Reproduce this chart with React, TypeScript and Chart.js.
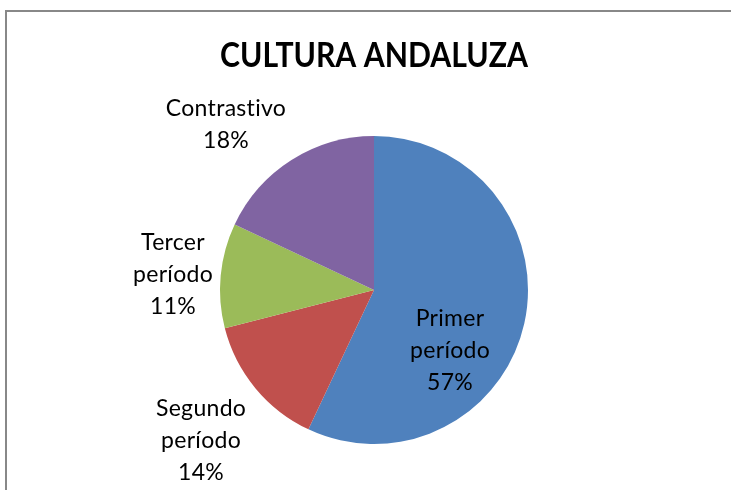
import React, { useEffect, useRef } from "react";
import { Chart, registerables } from "chart.js";

Chart.register(...registerables);

const TITLE = "CULTURA ANDALUZA";
const categories = ["Primer período", "Segundo período", "Tercer período", "Contrastivo"];
const labelLines = [
  ["Primer", "período"],
  ["Segundo", "período"],
  ["Tercer", "período"],
  ["Contrastivo"],
];
const values = [57, 14, 11, 18];
const colors = ["#4F81BD", "#C0504D", "#9BBB59", "#8064A2"];
// label anchor relative to pie centre, in units of pie radius
const labelOffsets = [
  [0.494, 0.396],
  [-1.123, 0.981],
  [-1.305, -0.097],
  [-0.961, -1.071],
];

const FONT = "Lato, 'Open Sans', sans-serif";

const labelPlugin = {
  id: "pieLabels",
  afterDatasetsDraw(chart: any) {
    const { ctx } = chart;
    const meta = chart.getDatasetMeta(0);
    const total = values.reduce((a, b) => a + b, 0);
    ctx.save();
    ctx.fillStyle = "#000";
    ctx.font = `23px ${FONT}`;
    try {
      (ctx as any).letterSpacing = "0.3px";
    } catch (e) {}
    ctx.textAlign = "center";
    ctx.textBaseline = "middle";
    const lineH = 32;
    meta.data.forEach((arc: any, i: number) => {
      const { x, y, outerRadius } = arc.getProps(["x", "y", "outerRadius"], true);
      const cx = x + labelOffsets[i][0] * outerRadius;
      const cy = y + labelOffsets[i][1] * outerRadius;
      const lines = [...labelLines[i], Math.round((values[i] / total) * 100) + "%"];
      const startY = cy - ((lines.length - 1) * lineH) / 2;
      lines.forEach((t, k) => ctx.fillText(t, cx, startY + k * lineH));
    });
    ctx.restore();
  },
};

export default function App() {
  const ref = useRef<HTMLCanvasElement>(null);
  useEffect(() => {
    const chart = new Chart(ref.current!, {
      type: "pie",
      data: {
        labels: categories,
        datasets: [
          {
            data: values,
            backgroundColor: colors,
            borderWidth: 0,
          },
        ],
      },
      options: {
        responsive: false,
        animation: false,
        layout: { padding: { left: 220, right: 203, top: 0, bottom: 46 } },
        plugins: {
          legend: { display: false },
          tooltip: { enabled: false },
          title: {
            display: true,
            text: TITLE,
            color: "#000",
            font: { family: FONT, size: 35, weight: "bold", lineHeight: 1.2 },
            padding: { top: 35, bottom: 59 },
          },
        },
      },
      plugins: [labelPlugin],
    });
    return () => chart.destroy();
  }, []);
  return (
    <div style={{ position: "fixed", left: 0, top: 0, width: 731, height: 490, background: "#fff", overflow: "hidden" }}>
      <div
        style={{
          position: "absolute",
          left: 5,
          top: 10,
          width: 740,
          height: 500,
          borderLeft: "2px solid #888",
          borderTop: "2px solid #888",
        }}
      />
      <canvas ref={ref} width={731} height={490} style={{ position: "absolute", left: 0, top: 0 }} />
    </div>
  );
}
